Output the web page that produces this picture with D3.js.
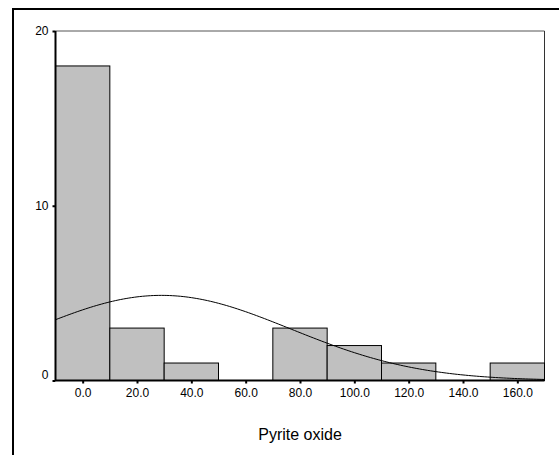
<!DOCTYPE html>
<html>
<head>
<meta charset="utf-8">
<script src="https://cdn.jsdelivr.net/npm/d3@7"></script>
<style>
  html, body { margin: 0; padding: 0; background: #fff; }
  svg { display: block; font-family: "Liberation Sans", Arial, sans-serif; }
</style>
</head>
<body>
<script>
// Histogram bins (centres, width 20) and frequencies
const binCenters = [0, 20, 40, 60, 80, 100, 120, 140, 160];
const binCounts  = [18, 3, 1, 0, 3, 2, 1, 0, 1];
const binWidth = 20;
const xTicks = [0, 20, 40, 60, 80, 100, 120, 140, 160];
const yTicks = [0, 10, 20];
const xLabel = "Pyrite oxide";
// Fitted normal curve parameters
const fitMean = 29;
const fitSd = 47.5;

const W = 559, H = 455;
const plot = { left: 55.5, right: 544.5, top: 31, bottom: 380.5 };

const svg = d3.select("body").append("svg").attr("width", W).attr("height", H);

// outer frame (extends past the window on right and bottom)
svg.append("rect")
  .attr("x", 13).attr("y", 9).attr("width", 600).attr("height", 500)
  .attr("fill", "none").attr("stroke", "#000").attr("stroke-width", 2);

const x = d3.scaleLinear().domain([-10, 170]).range([plot.left, plot.right]);
const y = d3.scaleLinear().domain([0, 20]).range([plot.bottom, plot.top]);

// plot frame top and right
svg.append("line").attr("x1", plot.left).attr("x2", plot.right)
  .attr("y1", plot.top).attr("y2", plot.top).attr("stroke", "#555").attr("stroke-width", 1);
svg.append("line").attr("x1", plot.right).attr("x2", plot.right)
  .attr("y1", plot.top).attr("y2", plot.bottom).attr("stroke", "#333").attr("stroke-width", 1);

// bars
svg.append("g").selectAll("rect")
  .data(binCenters.map((c, i) => ({ c, n: binCounts[i] })).filter(d => d.n > 0))
  .join("rect")
  .attr("x", d => x(d.c - binWidth / 2))
  .attr("width", d => x(d.c + binWidth / 2) - x(d.c - binWidth / 2))
  .attr("y", d => y(d.n))
  .attr("height", d => y(0) - y(d.n))
  .attr("fill", "#c0c0c0")
  .attr("stroke", "#000")
  .attr("stroke-width", 1);

// normal curve scaled to the histogram
const N = d3.sum(binCounts);
const dens = v => N * binWidth / (fitSd * Math.sqrt(2 * Math.PI)) *
  Math.exp(-0.5 * Math.pow((v - fitMean) / fitSd, 2));
const curveX = d3.range(-10, 170.01, 1);
svg.append("path")
  .datum(curveX)
  .attr("d", d3.line().x(v => x(v)).y(v => y(dens(v))))
  .attr("fill", "none").attr("stroke", "#000").attr("stroke-width", 1);

// axes
const yAxis = svg.append("g").attr("transform", `translate(${plot.left},0)`)
  .call(d3.axisLeft(y).tickValues(yTicks).tickFormat(d3.format("d")).tickSize(3).tickPadding(4));
const xAxis = svg.append("g").attr("transform", `translate(0,${plot.bottom})`)
  .call(d3.axisBottom(x).tickValues(xTicks).tickFormat(d3.format(".1f")).tickSize(3).tickPadding(5));

[yAxis, xAxis].forEach(g => {
  g.select(".domain").attr("stroke", "#000").attr("stroke-width", 2);
  g.selectAll(".tick line").attr("stroke", "#000").attr("stroke-width", 2);
  g.selectAll(".tick text").attr("fill", "#000").attr("font-size", 12)
    .attr("font-family", "Liberation Sans, Arial, sans-serif");
});
yAxis.select(".domain").attr("d", `M0,${plot.top}V${plot.bottom}`);
xAxis.select(".domain").attr("d", `M${plot.left},0H${plot.right}`);
// lift the zero label clear of the x axis
yAxis.selectAll(".tick text").filter(d => d === 0).attr("y", -6);

svg.append("text")
  .attr("x", (plot.left + plot.right) / 2).attr("y", 440)
  .attr("text-anchor", "middle").attr("font-size", 16).attr("fill", "#000")
  .text(xLabel);
</script>
</body>
</html>
